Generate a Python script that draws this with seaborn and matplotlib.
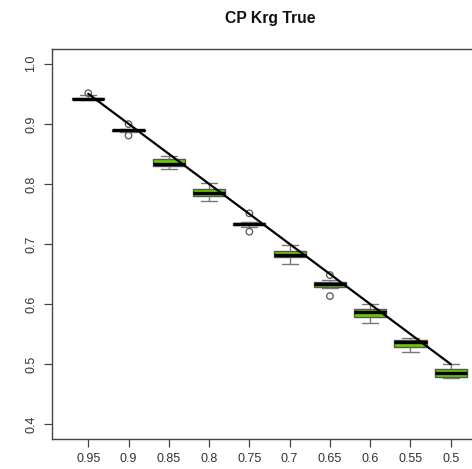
import numpy as np
import pandas as pd
import matplotlib
matplotlib.use("Agg")
import matplotlib.pyplot as plt
import seaborn as sns

# ---- data ----
labels = ["0.95", "0.9", "0.85", "0.8", "0.75", "0.7", "0.65", "0.6", "0.55", "0.5"]
nominal = [0.95, 0.90, 0.85, 0.80, 0.75, 0.70, 0.65, 0.60, 0.55, 0.50]
whisk_lo = [0.9395, 0.8865, 0.8245, 0.7717, 0.7278, 0.6667, 0.6272, 0.5678, 0.5205, 0.4772]
q1       = [0.9405, 0.8880, 0.8305, 0.7800, 0.7315, 0.6789, 0.6289, 0.5778, 0.5280, 0.4788]
median   = [0.9415, 0.8890, 0.8325, 0.7845, 0.7328, 0.6810, 0.6328, 0.5862, 0.5372, 0.4845]
q3       = [0.9425, 0.8898, 0.8417, 0.7917, 0.7345, 0.6883, 0.6372, 0.5912, 0.5395, 0.4928]
whisk_hi = [0.9480, 0.8915, 0.8472, 0.8022, 0.7372, 0.6983, 0.6400, 0.5995, 0.5428, 0.4995]
outlier_group = ["0.95", "0.9", "0.9", "0.75", "0.75", "0.65", "0.65"]
outlier_value = [0.951, 0.8995, 0.8805, 0.751, 0.7205, 0.6483, 0.6133]

rows = []
for i, lab in enumerate(labels):
    for v in (whisk_lo[i], q1[i], median[i], q3[i], whisk_hi[i]):
        rows.append({"level": lab, "cp": v})
df = pd.DataFrame(rows)
out_df = pd.DataFrame({"level": outlier_group, "cp": outlier_value})
line_df = pd.DataFrame({"pos": np.arange(len(labels)), "cp": nominal})

sns.set_style("white")
plt.rcParams["font.family"] = ["Liberation Sans", "DejaVu Sans"]

W, H = 472, 469
fig = plt.figure(figsize=(W / 100, H / 100), dpi=100)
left, right, top, bottom = 52, 487, 49.3, 438.7
ax = fig.add_axes([left / W, (H - bottom) / H, (right - left) / W, (bottom - top) / H])

green = "#66CD00"
edge = "#555555"
sns.boxplot(data=df, x="level", y="cp", order=labels, whis=(0, 100), width=0.8,
            color=green, saturation=1, linewidth=1, linecolor=edge,
            medianprops=dict(color="black", linewidth=2.4),
            whiskerprops=dict(color="#777777", linewidth=1),
            capprops=dict(color="#777777", linewidth=1),
            boxprops=dict(edgecolor=edge, facecolor=green),
            showfliers=False, ax=ax)

sns.scatterplot(data=out_df, x="level", y="cp", marker="o", s=22,
                facecolor="none", edgecolor="#555555", linewidth=0.9, ax=ax, zorder=4)

sns.lineplot(data=line_df, x="pos", y="cp", color="black", linewidth=1.6, ax=ax, zorder=5)

ax.set_xlim(-0.9, 9.9)
ax.set_ylim(0.376, 1.024)
ax.set_yticks([0.4, 0.5, 0.6, 0.7, 0.8, 0.9, 1.0])
ax.set_yticklabels(["0.4", "0.5", "0.6", "0.7", "0.8", "0.9", "1.0"], rotation=90, va="center")
ax.set_xticks(range(len(labels)))
ax.set_xticklabels(labels)
ax.set_xlabel("")
ax.set_ylabel("")
for s in ax.spines.values():
    s.set_visible(True)
    s.set_color("#444444")
    s.set_linewidth(1)
ax.tick_params(axis="both", which="both", direction="out", length=5.5, width=0.9,
               color="#444444", labelsize=9, labelcolor="#333333", pad=5,
               left=True, bottom=True)

fig.text(270 / W, 1 - 19 / H, "CP Krg True", ha="center", va="center",
         fontsize=11.3, fontweight="bold", color="#111111")

fig.savefig("out.png", dpi=100)
